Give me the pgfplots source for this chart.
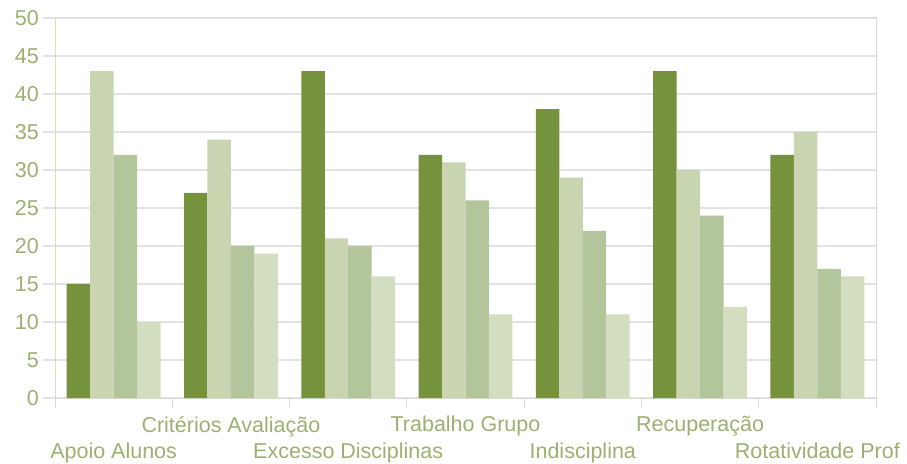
\documentclass[border=0pt]{standalone}
\usepackage{fontspec}
\setmainfont{Liberation Sans}
\usepackage{pgfplots}
\pgfplotsset{compat=1.18}
\definecolor{s1}{HTML}{76923C}
\definecolor{s2}{HTML}{C8D5B0}
\definecolor{s3}{HTML}{B3C59A}
\definecolor{s4}{HTML}{D3DDC0}
\definecolor{txt}{HTML}{9DB070}
\definecolor{gridc}{HTML}{E2E2E2}
\definecolor{axc}{HTML}{D9DDCF}
\begin{document}
\begin{tikzpicture}[x=1pt,y=1pt]
\useasboundingbox (0,0) rectangle (907,463);
\begin{axis}[
  at={(55pt,65pt)}, anchor=south west,
  scale only axis, width=821pt, height=380pt,
  xmin=0, xmax=7, ymin=0, ymax=50,
  ybar=0pt, bar width=0.2,
  ytick={0,5,...,50},
  xtick={0.5,1.5,...,6.5},
  xticklabels={{\strut\\Apoio Alunos},{Critérios Avaliação},{\strut\\Excesso Disciplinas},{Trabalho Grupo},{\strut\\Indisciplina},{Recuperação},{\strut\\Rotatividade Prof}},
  minor xtick={0,1,...,7},
  major x tick style={draw=none},
  minor x tick style={draw=axc, line width=1pt},
  major y tick style={draw=gridc, line width=1.2pt},
  tick align=outside, major tick length=12pt, minor tick length=10pt,
  xtick pos=bottom, ytick pos=left,
  ymajorgrids, grid style={draw=gridc, line width=1.2pt},
  axis line style={draw=axc, line width=1pt},
  /pgf/number format/assume math mode=true,
  every tick label/.append style={font=\fontsize{21.5}{25}\selectfont, text=txt},
  xticklabel style={align=center, anchor=north, inner sep=0pt, yshift=-6pt},
  yticklabel style={inner sep=0pt, xshift=-4pt},
]
\addplot[fill=s1, draw=none] coordinates {(0.5,15) (1.5,27) (2.5,43) (3.5,32) (4.5,38) (5.5,43) (6.5,32)};
\addplot[fill=s2, draw=none] coordinates {(0.5,43) (1.5,34) (2.5,21) (3.5,31) (4.5,29) (5.5,30) (6.5,35)};
\addplot[fill=s3, draw=none] coordinates {(0.5,32) (1.5,20) (2.5,20) (3.5,26) (4.5,22) (5.5,24) (6.5,17)};
\addplot[fill=s4, draw=none] coordinates {(0.5,10) (1.5,19) (2.5,16) (3.5,11) (4.5,11) (5.5,12) (6.5,16)};
\end{axis}
\end{tikzpicture}
\end{document}
